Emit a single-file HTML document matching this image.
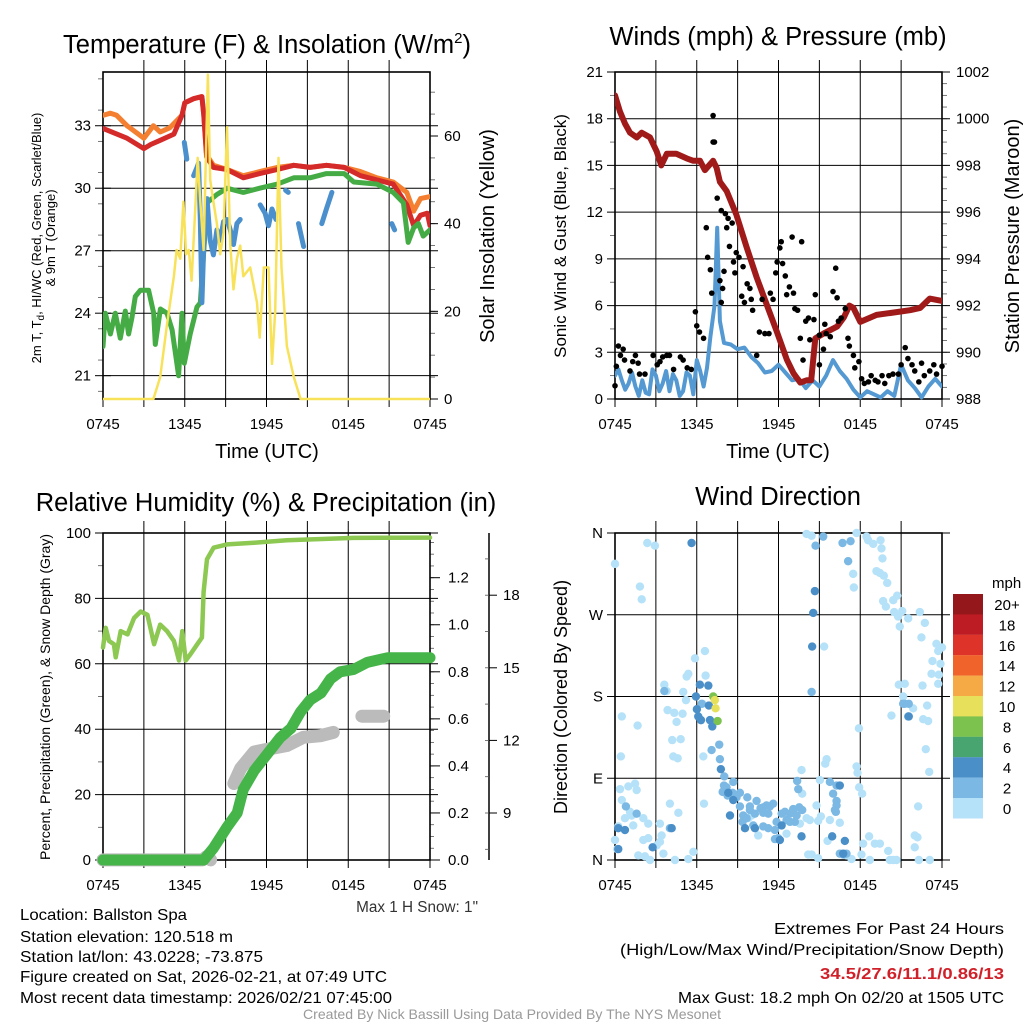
<!DOCTYPE html>
<html><head><meta charset="utf-8"><style>
body{margin:0;background:#fff}
svg{display:block;font-family:"Liberation Sans",sans-serif}
</style></head><body>
<svg id="c" width="1024" height="1024" viewBox="0 0 1024 1024">
<g id="g1"></g>
<g id="g2"></g>
<g id="g3"></g>
<g id="g4"></g>
<text x="267" y="53" font-size="25.5" text-anchor="middle">Temperature (F) &amp; Insolation (W/m<tspan dy="-10" font-size="15">2</tspan><tspan dy="10">)</tspan></text>
<text x="778" y="45" font-size="25.5" text-anchor="middle">Winds (mph) &amp; Pressure (mb)</text>
<text x="266" y="511" font-size="25.5" text-anchor="middle">Relative Humidity (%) &amp; Precipitation (in)</text>
<text x="778" y="505" font-size="25.5" text-anchor="middle">Wind Direction</text>
<text x="267" y="458" font-size="20" text-anchor="middle">Time (UTC)</text>
<text x="778" y="458" font-size="20" text-anchor="middle">Time (UTC)</text>
<text transform="translate(41,238) rotate(-90)" font-size="13" text-anchor="middle">2m T, T<tspan dy="3" font-size="10">d</tspan><tspan dy="-3">, HI/WC (Red, Green, Scarlet/Blue)</tspan></text>
<text transform="translate(55,238) rotate(-90)" font-size="13" text-anchor="middle">&amp; 9m T (Orange)</text>
<text transform="translate(494,236) rotate(-90)" font-size="20" text-anchor="middle">Solar Insolation (Yellow)</text>
<text transform="translate(566,236) rotate(-90)" font-size="17" text-anchor="middle">Sonic Wind &amp; Gust (Blue, Black)</text>
<text transform="translate(1019,236) rotate(-90)" font-size="20" text-anchor="middle">Station Pressure (Maroon)</text>
<text transform="translate(50,697) rotate(-90)" font-size="14" text-anchor="middle">Percent, Precipitation (Green), &amp; Snow Depth (Gray)</text>
<text transform="translate(567,697) rotate(-90)" font-size="18" text-anchor="middle">Direction (Colored By Speed)</text>
<text x="478" y="912" font-size="15.3" text-anchor="end" fill="#333">Max 1 H Snow: 1"</text>
<g font-size="16">
<text x="20" y="920" textLength="167" lengthAdjust="spacingAndGlyphs">Location: Ballston Spa</text>
<text x="20" y="942" textLength="213" lengthAdjust="spacingAndGlyphs">Station elevation: 120.518 m</text>
<text x="20" y="962" textLength="243" lengthAdjust="spacingAndGlyphs">Station lat/lon: 43.0228; -73.875</text>
<text x="20" y="982" textLength="367" lengthAdjust="spacingAndGlyphs">Figure created on Sat, 2026-02-21, at 07:49 UTC</text>
<text x="20" y="1003" textLength="372" lengthAdjust="spacingAndGlyphs">Most recent data timestamp: 2026/02/21 07:45:00</text>
</g>
<g font-size="16" text-anchor="end">
<text x="1004" y="934" textLength="230" lengthAdjust="spacingAndGlyphs">Extremes For Past 24 Hours</text>
<text x="1004" y="955" textLength="384" lengthAdjust="spacingAndGlyphs">(High/Low/Max Wind/Precipitation/Snow Depth)</text>
<text x="1004" y="979" fill="#d0212a" font-weight="bold" textLength="184" lengthAdjust="spacingAndGlyphs">34.5/27.6/11.1/0.86/13</text>
<text x="1004" y="1003" textLength="326" lengthAdjust="spacingAndGlyphs">Max Gust: 18.2 mph On 02/20 at 1505 UTC</text>
</g>
<text x="512" y="1019" font-size="14" fill="#999" text-anchor="middle" textLength="418" lengthAdjust="spacingAndGlyphs">Created By Nick Bassill Using Data Provided By The NYS Mesonet</text>
</svg>
<script>
// ---- Panel 1 data ----
const tRed=[0,1.76,3.0,3.5,4.2,5.2,5.8,6.0,6.65,7.26,7.4,7.6,8.1,9.1,10.3,11.5,12.8,14.0,15.2,16.4,17.7,18.9,20.1,21.3,22.3,22.8,23.3,23.8,24];
const vRed=[32.87,32.4,31.9,32.1,32.3,32.6,33.5,34.1,34.3,34.4,33.5,31.5,31.0,30.9,30.5,30.7,30.9,31.1,31.0,31.1,31.0,30.6,30.4,30.2,29.2,28.2,28.7,28.8,28.2];
const tOrange=[0,0.54,1.0,1.76,3.0,3.7,4.2,4.9,5.8,6.0,6.65,7.26,7.4,7.6,8.1,9.1,10.3,11.5,12.8,14.0,15.2,16.4,17.7,18.9,20.1,21.3,22.3,22.8,23.3,24];
const vOrange=[33.5,33.6,33.5,33.0,32.4,33.0,32.7,32.9,33.5,34.1,34.3,34.4,33.5,31.6,31.1,30.9,30.6,30.8,31.0,31.1,31.0,31.1,31.0,30.8,30.5,30.3,29.8,28.9,29.5,29.6];
const tDew=[0,0.17,0.54,0.9,1.27,1.64,1.88,2.13,2.37,2.74,3.35,3.72,3.84,4.21,4.7,5.07,5.55,5.8,5.97,6.4,6.9,7.14,7.63,8.36,9.1,10.3,11.5,12.8,14.0,15.2,16.4,17.7,18.4,20.1,21.3,22.05,22.4,22.8,23.15,23.5,24];
const vDew=[22.4,24.0,23.0,24.0,22.8,24.1,23.0,23.8,24.8,25.1,25.1,24.0,22.5,24.2,24.0,23.2,21.0,24.0,21.6,23.0,24.3,24.5,29.3,29.7,30.0,29.8,30.0,30.2,30.5,30.5,30.7,30.7,30.3,30.2,29.8,29.3,27.4,28.1,28.3,27.7,28.0];
const tChill=[5.97,6.15,null,6.65,6.9,7.02,7.14,7.26,7.38,7.63,7.87,8.1,8.36,8.6,8.85,9.1,9.34,9.58,9.83,10.07,null,11.54,11.9,12.15,12.4,12.7,null,13.4,13.6,null,14.35,14.72,null,16.06,16.4,16.8,null,21.2,21.4];
const vChill=[32.2,31.4,null,30.6,31.0,31.2,28.5,24.5,27.0,29.5,27.5,26.8,28.0,27.5,28.4,28.5,28.0,27.3,28.3,28.5,null,29.2,28.8,28.2,29.0,28.5,null,29.9,29.8,null,28.3,27.2,null,28.3,29.0,29.8,null,28.3,28.0];
const tSun=[0,3.7,4.2,4.7,5.2,5.4,5.67,5.9,6.1,6.3,6.5,6.8,6.95,7.14,7.38,7.7,7.87,8.1,8.36,8.6,8.85,9.1,9.34,9.58,9.83,10.07,10.3,10.8,11.3,11.5,11.8,12.15,12.4,12.64,12.88,13.1,13.5,14.0,14.5,24];
const vSun=[0,0,5,17,28,34,32,45,33,34,27,45,55,45,34,74,50,45,40,33,38,62,35,25,32,35,28,30,22,14,30,30,8,20,55,30,12,5,0,0];
const p1LeftTicks=[21,24,27,30,33];
const p1RightTicks=[0,20,40,60];
const timeLabels=["0745","1345","1945","0145","0745"];
// ---- Panel 2 data ----
const tPres=[0,0.37,0.73,1.1,1.6,1.96,2.57,3.06,3.4,3.8,4.5,5.26,5.75,6.24,6.6,7.2,7.46,7.7,8.2,8.9,9.66,10.4,11.1,11.87,12.6,13.1,13.6,14.07,14.4,14.7,15.3,16.3,16.8,17.2,17.5,18.0,19.2,20.4,21.65,22.4,23.1,24];
const vPres=[1001.0,1000.3,999.8,999.4,999.2,999.4,999.2,998.6,998.0,998.5,998.5,998.3,998.2,998.2,997.8,998.2,997.9,997.3,996.9,995.9,994.5,993.2,992.1,990.9,989.7,989.1,988.7,988.8,988.8,990.6,990.8,991.1,991.5,992.0,991.9,991.3,991.6,991.7,991.8,991.9,992.3,992.2];
const tWind=[0,0.25,0.5,0.75,1,1.25,1.5,1.75,2,2.25,2.5,2.75,3,3.25,3.5,3.75,4,4.25,4.5,4.75,5,5.25,5.5,5.75,6,6.25,6.5,6.75,7,7.3,7.5,7.7,8,8.5,9,9.5,10,10.5,11,11.5,12,12.5,13,13.5,14,14.5,15,15.5,16,16.5,17,17.5,18,18.5,19,19.5,20,20.5,21,21.5,22,22.5,23,23.5,24];
const vWind=[1.5,1.9,1.2,0.6,1.0,1.7,0.8,0.2,1.2,0.4,0.3,1.9,1.5,0.5,1.0,1.8,0.5,1.6,1.2,0.2,0.5,1.7,1.5,0.3,2.5,1.8,0.8,2.0,4.0,6.0,11.0,5.0,3.6,3.5,3.2,3.3,2.7,2.3,1.7,1.8,2.2,1.7,1.2,1.3,0.7,1.2,0.8,1.5,2.5,1.8,1.3,0.6,0.1,0.5,0.3,0.1,0.5,0.2,2.2,1.2,0.7,0.1,0.8,1.3,0.8];
const gustT=[0,0.1,0.25,0.4,0.6,0.7,1.1,1.3,1.5,1.7,1.8,2.2,2.8,3.1,3.3,3.5,3.8,4.0,4.3,4.8,5.0,5.3,5.6,5.9,6.0,6.2,6.5,6.7,6.8,7.0,7.1,7.2,7.2,7.3,7.5,7.7,7.8,7.9,8.0,7.8,8.1,8.2,8.3,8.4,8.6,8.7,8.8,8.9,9.1,9.3,9.4,9.5,9.7,9.9,10.0,10.1,10.4,10.6,10.8,11.0,11.3,11.4,11.6,11.8,11.9,12.1,12.2,12.3,12.5,12.6,12.8,13.0,13.1,13.2,13.4,13.6,13.7,13.8,14.0,14.2,14.3,14.6,14.7,15.0,15.0,15.3,15.4,15.5,15.8,16.0,16.2,16.3,16.4,16.6,16.9,17.1,17.2,17.5,17.6,17.9,18.1,18.3,18.6,18.8,19.1,19.3,19.6,19.8,20.1,20.4,20.8,21.0,21.3,21.5,21.8,22.0,22.3,22.5,22.7,23.1,23.4,23.6,24.0];
const gustV=[0.85,2.1,3.4,2.8,3.2,2.5,1.8,2.4,2.8,2.3,1.6,1.6,2.8,2.2,2.4,2.7,2.8,2.8,1.9,2.7,2.5,2.0,1.9,5.6,4.7,4.3,3.9,11.0,9.1,8.3,6.8,18.2,16.5,16.5,12.9,7.6,6.2,7.1,8.2,12.1,11.9,11.0,11.6,9.8,11.3,8.8,8.1,9.4,9.1,6.6,8.5,6.2,7.4,7.1,6.4,5.7,2.8,4.3,6.4,4.2,4.2,6.8,6.4,8.1,8.8,9.7,10.1,8.7,7.9,6.7,7.2,10.4,6.8,5.8,5.7,3.9,10.1,2.5,5.0,5.2,3.8,5.1,6.7,4.1,2.2,3.2,4.8,4.2,4.0,6.9,8.4,6.5,5.0,5.2,5.8,3.9,3.4,2.8,2.0,2.4,1.3,1.0,1.1,1.5,1.2,1.1,1.5,1.0,1.5,1.6,1.6,2.2,3.3,2.6,2.2,1.8,1.1,2.3,1.5,1.8,2.2,1.6,2.1];
const p2LeftTicks=[0,3,6,9,12,15,18,21];
const p2RightTicks=[988,990,992,994,996,998,1000,1002];
// ---- Panel 3 data ----
const tRH=[0,0.2,0.44,0.8,0.93,1.3,1.8,2.28,2.77,3.26,3.75,4.2,4.7,5.2,5.58,5.82,6.07,6.43,6.92,7.26,7.38,7.63,8.12,9.1,11.07,13.5,18.4,24];
const vRH=[65,71,67,66,62,70,69,74,76,75,66,72,70,67,61,70,61,63,66,68,82,92,95.5,96.5,97,97.8,98.5,98.6];
const tPrecip=[0,7.4,8.1,9.1,9.85,10.3,11.1,12.05,13.0,13.8,14.5,15.2,16.0,16.7,17.4,18.4,19.4,20.9,24];
const vPrecip=[0,0,0.05,0.14,0.2,0.3,0.38,0.45,0.52,0.56,0.63,0.68,0.71,0.77,0.8,0.81,0.84,0.86,0.86];
const tSnow=[0,7.3,7.6,7.9,null,9.6,10.1,11.1,12.3,13.5,14.7,16.0,16.9,null,19.0,20.6];
const vSnow=[7.06,7.06,7.2,7.06,null,10.22,10.84,11.52,11.66,11.79,12.13,12.2,12.33,null,13.0,13.0];
const p3LeftTicks=[0,20,40,60,80,100];
const p3RightTicks=[0,0.2,0.4,0.6,0.8,1.0,1.2];
const snowTicks=[9,12,15,18];
// ---- Panel 4 data (time h, direction deg) by speed bin ----
const dirCalm=[[0,326],[2.37,349],[2.93,346],[1.83,301],[1.96,287],[0.5,158],[1.66,148],[0.43,114],[0.37,78],[0.98,81],[1.47,84],[1.59,77],[0.5,66],[1.1,53],[1.22,49],[0.73,46],[1.34,38],[0.24,37],[0,22],[0.17,12],[1.71,5],[2.2,4],[2.57,0],[2.44,24],[2.08,22],[2.08,46],[2.44,40],[3.06,16],[3.3,20],[3.42,27],[3.55,7],[3.3,40],[4.03,62],[4.65,52],[4.4,0],[5.38,1],[5.75,9],[5.38,205],[5.87,222],[6.6,230],[5.26,202],[3.62,193],[3.79,186],[5.01,185],[5.21,176],[3.86,165],[4.35,162],[4.96,161],[4.52,152],[4.2,132],[4.82,133],[4.28,114],[4.6,112],[6.48,114],[6.53,62],[6.41,172],[6.65,203],[14.06,359],[14.43,357],[17.73,360],[18.46,356],[18.58,352],[18.95,348],[19.49,352],[19.56,343],[19.63,332],[17.11,329],[17.48,315],[17.53,300],[19.19,318],[19.44,316],[19.73,313],[19.98,305],[19.68,285],[19.88,279],[20.42,286],[20.71,291],[20.49,273],[21.08,274],[20.78,268],[21.52,266],[20.9,257],[22.37,273],[22.74,261],[22.49,245],[23.59,238],[24,234],[23.72,230],[23.3,219],[23.89,216],[23.23,205],[23.77,204],[23.72,194],[20.83,193],[21.27,194],[22.57,192],[21.15,180],[22.91,170],[21.88,167],[20.29,159],[22.62,155],[22.98,153],[17.9,145],[22.81,122],[23.06,97],[22.25,59],[17.73,103],[17.8,96],[17.92,80],[18.14,73],[15.53,111],[15.43,106],[13.69,99],[13.74,73],[15.35,235],[15.04,88],[14.79,60],[14.3,44],[14.06,46],[13.57,40],[14.43,6],[15.11,48],[14.91,43],[15.77,44],[16.5,41],[15.6,21],[14.91,2],[14.18,6],[18.09,6],[18.65,26],[19.07,18],[19.44,18],[18.21,18],[20.05,10],[20.17,0],[20.42,0],[20.66,0],[22.0,14],[22.0,27],[22.2,25],[22.3,0],[23.1,0],[18.7,0],[17.36,1],[16.99,5],[12.59,29],[10.51,27],[9.78,46],[10.02,49]];
const dirLight=[[15.28,356],[14.72,346],[16.7,349],[17.29,351],[17.11,329],[14.43,185],[3.62,186],[4.03,35],[16.01,73],[16.14,55],[16.26,65],[16.26,60],[16.21,53],[15.77,86],[16.26,82],[13.37,87],[13.45,78],[13.74,55],[16.99,7],[16.5,7],[16.75,6],[21.27,172],[21.56,172],[21.15,172],[21.52,158],[6.36,172],[7.65,127],[7.7,111],[7.09,121],[8.02,92],[8.0,82],[8.19,80],[7.9,75],[8.26,71],[8.68,86],[9.17,74],[8.63,74],[8.92,69],[9.71,69],[9.17,59],[9.9,59],[10.39,65],[10.68,57],[10.88,58],[11.12,60],[11.37,59],[11.61,62],[11.25,51],[10.88,52],[10.27,51],[9.9,55],[9.41,49],[9.36,42],[9.66,46],[10.15,38],[10.88,37],[11.25,35],[11.74,33],[11.86,42],[12.23,51],[12.47,53],[12.84,51],[13.08,53],[13.33,49],[13.2,42],[12.84,42],[12.59,44],[11.98,24],[11.74,23],[0.8,59],[1.59,51],[13.08,56],[13.52,58]];
const dirModerate=[[5.62,349],[14.67,296],[14.55,272],[14.47,235],[6.23,193],[6.85,192],[5.94,180],[6.89,170],[6.01,166],[6.11,158],[6.31,154],[6.97,154],[7.14,147],[7.77,100],[8.31,74],[8.68,66],[8.44,49],[9.54,35],[10.27,35],[12.23,38],[12.1,22],[13.69,26],[15.94,26],[16.87,21],[16.5,82],[16.75,7],[21.56,158],[0.73,33],[0.24,35],[0.24,12],[4.16,35],[2.76,14]];
const dirFresh=[[7.21,180],[7.53,153]];
const dirStrong=[[7.33,176],[7.38,167]];
const binSpeeds=[1,3,5,8,10];
const dirLabels=["N","E","S","W","N"];
const cbarLabels=["20+","18","16","14","12","10","8","6","4","2","0"];
const cbarColors=["#93171b","#bd1c24","#dd3328","#f0632b","#f6aa45","#e6e05a","#7bc24f","#48a570","#4a8fc8","#7bb8e3","#b5e2f8"];

const NS="http://www.w3.org/2000/svg";
function el(parent,tag,attrs,text){const e=document.createElementNS(NS,tag);for(const k in attrs)e.setAttribute(k,attrs[k]);if(text!==undefined)e.textContent=text;parent.appendChild(e);return e;}
function lin(d0,d1,r0,r1){return v=>r0+(v-d0)/(d1-d0)*(r1-r0);}
function pathD(ts,vs,fx,fy){let d="",pen=false;for(let i=0;i<ts.length;i++){if(ts[i]===null||vs[i]===null){pen=false;continue;}d+=(pen?"L":"M")+fx(ts[i]).toFixed(1)+","+fy(vs[i]).toFixed(1);pen=true;}return d;}
function frame(g,x0,x1,y0,y1){
  for(let h=0;h<=24;h+=3){const x=x0+h/24*(x1-x0);
    const l=el(g,"line",{x1:x,x2:x,y1:y0-(h%24?12:0),y2:y1+8,stroke:"#000","stroke-width":1});
    
    }
  for(let i=0;i<5;i++){const t=el(g,"text",{x:x0+i*6/24*(x1-x0),y:y1+30,"font-size":15,"text-anchor":"middle"},timeLabels[i]);
    
    }
  const r=el(g,"rect",{x:x0,y:y0,width:x1-x0,height:y1-y0,fill:"none",stroke:"#000","stroke-width":1.6});
  
  
}
function hgrid(g,x0,x1,fy,ticks,labelFmt,side,lx){
  ticks.forEach(v=>{const y=fy(v);
    const l=el(g,"line",{x1:x0-8,x2:x1+8,y1:y,y2:y,stroke:"#000","stroke-width":1});
    
    
    const t=el(g,"text",{x:lx,y:y+5,"font-size":15,"text-anchor":side},labelFmt(v));
    
    });
}
function minor(g,x,fy,a,b,step,len){for(let v=a;v<=b+1e-9;v+=step){const y=fy(v);el(g,"line",{x1:x,x2:x+len,y1:y,y2:y,stroke:"#555","stroke-width":0.8});}}

// ---------- Panel 1 ----------
(function(){
 const g=document.getElementById("g1");const x0=103,x1=430,y0=72,y1=399;
 const fx=lin(0,24,x0,x1), fy=lin(19.88,35.58,y1,y0), fr=lin(0,74.6,y1,y0);
 minor(g,x0,fy,20.25,35.5,1.5,-5);minor(g,x1,fr,5,70,5,5);
 hgrid(g,x0,x0,fy,p1LeftTicks,v=>v,"end",x0-12);
 p1RightTicks.forEach(v=>{const y=fr(v);el(g,"line",{x1:x1,x2:x1+8,y1:y,y2:y,stroke:"#000"});
   const t=el(g,"text",{x:x1+14,y:y+5,"font-size":15},v);
   
   });
 p1LeftTicks.forEach(v=>el(g,"line",{x1:x0,x2:x1+8,y1:fy(v),y2:fy(v),stroke:"#000"}));
 frame(g,x0,x1,y0,y1);
 const clip=el(g,"clipPath",{id:"c1"});el(clip,"rect",{x:x0,y:y0,width:x1-x0,height:y1-y0+3});
 const s=el(g,"g",{"clip-path":"url(#c1)",fill:"none","stroke-linejoin":"round","stroke-linecap":"round"});
 const series=[[tOrange,vOrange,"#f47f30",5,fy,"orange-9m-temp-line"],[tRed,vRed,"#d42a2a",5,fy,"red-2m-temp-line"],[tDew,vDew,"#45ac45",5,fy,"green-dewpoint-line"],[tChill,vChill,"#4b90cc",5,fy,"blue-windchill-line"],[tSun,vSun,"#f8e25a",2.5,fr,"yellow-insolation-line"]];
 series.forEach(([t,v,c,w,f,n])=>{const p=el(s,"path",{d:pathD(t,v,fx,f),stroke:c,"stroke-width":w});
   
   });
})();
// ---------- Panel 2 ----------
(function(){
 const g=document.getElementById("g2");const x0=615,x1=942,y0=72,y1=399;
 const fx=lin(0,24,x0,x1), fy=lin(0,21,y1,y0), fp=lin(988,1002,y1,y0);
 minor(g,x0,fy,1.5,19.5,3,-5);minor(g,x1,fp,988.5,1001.5,0.5,5);
 hgrid(g,x0,x1,fy,p2LeftTicks,v=>v,"end",x0-12);
 p2RightTicks.forEach(v=>{const t=el(g,"text",{x:x1+14,y:fp(v)+5,"font-size":15},v);
   
   });
 frame(g,x0,x1,y0,y1);
 const clip=el(g,"clipPath",{id:"c2"});el(clip,"rect",{x:x0,y:y0,width:x1-x0,height:y1-y0+3});
 const s=el(g,"g",{"clip-path":"url(#c2)",fill:"none","stroke-linejoin":"round","stroke-linecap":"round"});
 const w=el(s,"path",{d:pathD(tWind,vWind,fx,fy),stroke:"#5499d2","stroke-width":4});
 
 
 gustT.forEach((t,i)=>{const c=el(g,"circle",{cx:fx(t),cy:fy(gustV[i]),r:2.8,fill:"#000"});
   
   });
 const p=el(s,"path",{d:pathD(tPres,vPres,fx,fp),stroke:"#a01a1a","stroke-width":6});
 
 
})();
// ---------- Panel 3 ----------
(function(){
 const g=document.getElementById("g3");const x0=103,x1=430,y0=533,y1=860;
 const fx=lin(0,24,x0,x1), fy=lin(0,100,y1,y0), fr=lin(0,1.39,y1,y0), fs=v=>813-(v-9)*24.2;
 minor(g,x0,fy,10,90,20,-5);minor(g,x1,fr,0.05,1.35,0.05,4);
 hgrid(g,x0,x1,fy,p3LeftTicks,v=>v,"end",x0-12);
 p3RightTicks.forEach(v=>{const y=fr(v);el(g,"line",{x1:x1,x2:x1+10,y1:y,y2:y,stroke:"#000"});
   const t=el(g,"text",{x:x1+18,y:y+5,"font-size":15},v.toFixed(1));
   
   });
 const ax=el(g,"line",{x1:489,x2:489,y1:y0,y2:y1,stroke:"#000","stroke-width":1.5});
 
 
 minor(g,489,fs,7.5,19.5,1.5,-4);
 snowTicks.forEach(v=>{const y=fs(v);el(g,"line",{x1:489,x2:497,y1:y,y2:y,stroke:"#000"});
   const t=el(g,"text",{x:503,y:y+5,"font-size":15},v);
   
   });
 frame(g,x0,x1,y0,y1);
 const s=el(g,"g",{fill:"none","stroke-linejoin":"round","stroke-linecap":"round"});
 const sn=el(s,"path",{d:pathD(tSnow,vSnow,fx,fs),stroke:"#bbbbbb","stroke-width":13});
 
 
 const rh=el(s,"path",{d:pathD(tRH,vRH,fx,fy),stroke:"#8cc852","stroke-width":4.5});
 
 
 const pr=el(s,"path",{d:pathD(tPrecip,vPrecip,fx,fr),stroke:"#45b449","stroke-width":11});
 
 
})();
// ---------- Panel 4 ----------
(function(){
 const g=document.getElementById("g4");const x0=615,x1=942,y0=533,y1=860;
 const fx=lin(0,24,x0,x1), fy=lin(0,360,y1,y0);
 hgrid(g,x0,x1,fy,[0,90,180,270,360],v=>dirLabels[v/90],"end",x0-12);
 frame(g,x0,x1,y0,y1);
 function colorFor(sp){const i=Math.min(10,Math.max(0,Math.floor(sp/2)));return cbarColors[10-i];}
 [dirCalm,dirLight,dirModerate,dirFresh,dirStrong].forEach((arr,k)=>{
   arr.forEach(([t,d])=>{const c=el(g,"circle",{cx:fx(t),cy:fy(d),r:4.2,fill:colorFor(binSpeeds[k])});
     
     });});
 const cb=el(g,"g",{});
 
 
 el(cb,"text",{x:992,y:588,"font-size":15},"mph");
 cbarColors.forEach((c,i)=>{el(cb,"rect",{x:953,y:594+i*20.4,width:30,height:20.5,fill:c});
   const lb=el(cb,"text",{x:1007,y:594+i*20.4+16,"font-size":15,"text-anchor":"middle"},cbarLabels[i]);
   
   });
})();
</script>
</body></html>
